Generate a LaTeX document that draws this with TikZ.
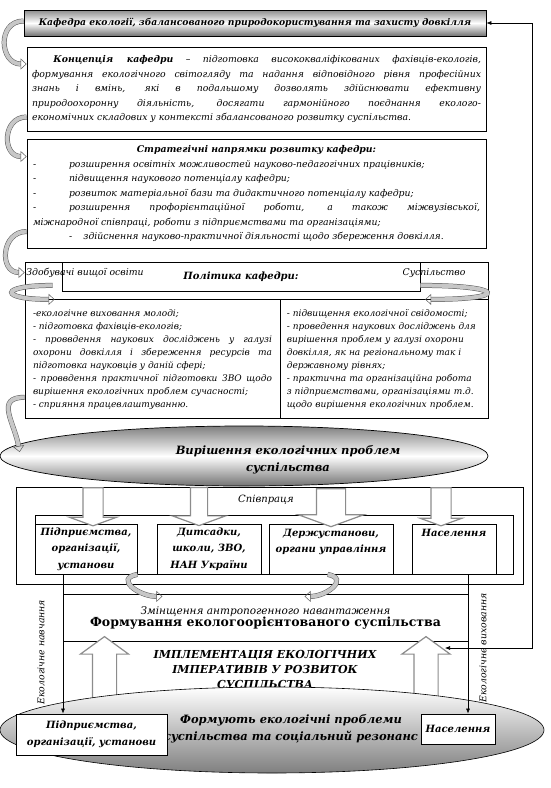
\documentclass[tikz,border=0pt]{standalone}
\usepackage{fontspec}
\setmainfont{DejaVu Serif}
\usetikzlibrary{positioning,arrows.meta,shapes.geometric,shapes.arrows}

\newcommand{\dashit}{\makebox[36pt][l]{-}}

\begin{document}
\begin{tikzpicture}[x=1pt, y=-1pt,
  box/.style={draw, line width=0.8pt, inner sep=0pt},
  itx/.style={font=\itshape\fontsize{9.3}{14.5}\selectfont},
  small/.style={font=\itshape\fontsize{9}{13}\selectfont},
  bix/.style={font=\bfseries\itshape\fontsize{10}{16.5}\selectfont},
  big/.style={font=\bfseries\itshape\fontsize{11.5}{17}\selectfont},
  ribbon/.style={draw=black!65, line width=0.5pt, double=black!22, double distance=4pt,
    -{Triangle[open, length=6pt, width=11pt]}},
  darr/.style={single arrow, draw=black!45, fill=white, line width=1.2pt,
    inner xsep=0pt, rotate=-90, minimum height=38pt, single arrow tip angle=140},
  uarr/.style={single arrow, draw=black!45, fill=white, line width=1.2pt,
    inner xsep=0pt, inner ysep=11.5pt, rotate=90, minimum height=66pt,
    single arrow head extend=12pt, single arrow tip angle=108},
  feed/.style={line width=0.6pt}]
\useasboundingbox (0,0) rectangle (550,788);

% department and its aims
\node[box, top color=black!45, bottom color=black!55, middle color=white,
  minimum width=462pt, minimum height=26pt,
  font=\bfseries\itshape\fontsize{9.2}{12}\selectfont] (kaf) at (255,23)
  {Кафедра екології, збалансованого природокористування та захисту довкілля};
\node[box, inner xsep=5pt, text width=449pt, minimum height=84pt, align=justify, itx] (conc) at (256.5,89)
  {\hspace*{2.3em}\textbf{Концепція кафедри} – підготовка висококваліфікованих фахівців-екологів,\linebreak
  формування екологічного світогляду та надання відповідного рівня професійних\linebreak
  знань і вмінь, які в подальшому дозволять здійснювати ефективну\linebreak
  природоохоронну діяльність, досягати гармонійного поєднання еколого-\linebreak
  економічних складових у контексті збалансованого розвитку суспільства.};
\node[box, inner xsep=6pt, text width=447pt, minimum height=109pt, align=justify, itx] (strat) at (256.5,193.5)
  {{\centering\bfseries Стратегічні напрямки розвитку кафедри:\par}
  \dashit розширення освітніх можливостей науково-педагогічних працівників;\\
  \dashit підвищення наукового потенціалу кафедри;\\
  \dashit розвиток матеріальної бази та дидактичного потенціалу кафедри;\\
  \dashit розширення профорієнтаційної роботи, а також міжвузівської,\linebreak
  міжнародної співпраці, роботи з підприємствами та організаціями;\par
  {\centering -\hspace{1.2em}здійснення науково-практичної діяльності щодо збереження довкілля.\par}};

% policy
\node[box, minimum width=463pt, minimum height=37pt] (phead) at (256.5,280.5) {};
\node[box, minimum width=358pt, minimum height=29pt, bix] (pol) at (241,276.5) {Політика кафедри:};
\node[itx] (zdob) at (85,273) {Здобувачі вищої освіти};
\node[itx] (susp) at (434,273) {Суспільство};
\node[box, anchor=north west, minimum width=255pt, minimum height=119pt, inner xsep=8pt,
  text width=239pt, align=justify, small] (pleft) at (phead.south west)
  {-екологічне виховання молоді;\\
  - підготовка фахівців-екологів;\\
  - проввдення наукових досліджень у галузі\linebreak
  охорони довкілля і збереження ресурсів та\linebreak
  підготовка науковців у даній сфері;\\
  - проввдення практичної підготовки ЗВО щодо\linebreak
  вирішення екологічних проблем сучасності;\\
  - сприяння працевлаштуванню.};
\node[box, anchor=north west, minimum width=208pt, minimum height=119pt, inner xsep=6pt,
  text width=196pt, align=left, small] (pright) at (pleft.north east)
  {- підвищення екологічної свідомості;\\
  - проведення наукових досліджень для\\
  вирішення проблем у галузі охорони\\
  довкілля, як на регіональному так і\\
  державному рівнях;\\
  - практична та організаційна робота\\
  з підприємствами, організаціями т.д.\\
  щодо вирішення екологічних проблем.};

\draw[ribbon] ([yshift=2pt]kaf.west) to[out=180, in=180, looseness=1.6] ([yshift=25pt]conc.west);
\draw[ribbon] ([yshift=-28pt]conc.west) to[out=180, in=180, looseness=1.6] ([yshift=37pt]strat.west);
\draw[ribbon] ([yshift=-38pt]strat.west) to[out=180, in=180, looseness=1.6] ([yshift=8pt]phead.west);
\draw[ribbon] ([xshift=28pt, yshift=14pt]phead.south west) .. controls +(-55,0) and +(-55,0) .. ([xshift=30pt]pleft.north west);
\draw[ribbon] ([xshift=-68pt, yshift=14pt]phead.south east) .. controls +(85,0) and +(85,0) .. ([xshift=-64pt]pright.north east);

% solving
\node[ellipse, draw, line width=0.7pt, top color=black!50, bottom color=black!55, middle color=white,
  minimum width=488pt, minimum height=60pt, inner sep=0pt] (vir) at (244,456) {};
\node[big, align=center] (virtxt) at (288,460) {Вирішення екологічних проблем\\суспільства};
\draw[ribbon] ([yshift=-38pt]pleft.west) to[out=180, in=100, looseness=1.4] ([xshift=20pt, yshift=4pt]vir.west);

% cooperation
\node[box, minimum width=507pt, minimum height=97pt] (coop) at (269.5,535.5) {};
\node[itx, font=\itshape\fontsize{10}{12}\selectfont] (spiv) at (266,500) {Співпраця};
\node[box, minimum width=478pt, minimum height=59pt] (row) at (274,544.5) {};
\node[box, minimum width=102pt, minimum height=50pt, align=center, bix] (b1) at (86,549) {Підприємства,\\організації,\\установи};
\node[box, minimum width=104pt, minimum height=50pt, align=center, bix] (b2) at (209,549) {Дитсадки,\\школи, ЗВО,\\НАН України};
\node[box, minimum width=124pt, minimum height=50pt, align=center, bix] (b3) at (331,549) {Держустанови,\\органи управління\\\mbox{}};
\node[box, minimum width=84pt, minimum height=50pt, align=center, bix] (b4) at (454,549) {Населення\\\mbox{}\\\mbox{}};
\node[darr, inner ysep=9.5pt, single arrow head extend=13.5pt] (darr1) at (93,505) {};
\node[darr, inner ysep=8pt, single arrow head extend=18pt] (darr2) at (199,505) {};
\node[darr, inner ysep=14pt, single arrow head extend=18pt] (darr3) at (331,505) {};
\node[darr, inner ysep=9.5pt, single arrow head extend=10.5pt] (darr4) at (441,505) {};

% forming
\node[box, minimum width=405pt, minimum height=47pt, align=center] (form) at (265.5,617.5)
  {{\itshape\fontsize{10.5}{16}\selectfont Змінщення антропогенного навантаження}\\
  {\bfseries\fontsize{12.5}{15}\selectfont Формування екологоорієнтованого суспільства}};
\draw[ribbon] (b1.south east) to[out=190, in=180, looseness=1.8] ([xshift=25pt, yshift=-22pt]b1.south east);
\draw[ribbon] ([xshift=59pt]b3.south west) to[out=-10, in=0, looseness=1.8] ([xshift=36pt, yshift=-22pt]b3.south west);

\node[uarr] (uarr1) at (104.5,674) {};
\node[uarr] (uarr2) at (426,674) {};
\node[font=\bfseries\itshape\fontsize{11}{15}\selectfont, align=center] (imp) at (265,669)
  {ІМПЛЕМЕНТАЦІЯ ЕКОЛОГІЧНИХ\\ІМПЕРАТИВІВ У РОЗВИТОК\\СУСПІЛЬСТВА};

% problems
\node[ellipse, draw, line width=0.6pt, top color=white, bottom color=black!50,
  minimum width=544pt, minimum height=86pt, inner sep=0pt] (prob) at (272,730) {};
\node[big, align=center] (probtxt) at (291,729) {Формують екологічні проблеми\\суспільства та соціальний резонанс};
\node[box, fill=white, minimum width=151pt, minimum height=41pt, align=center,
  font=\bfseries\itshape\fontsize{10}{17}\selectfont] (pb1) at (91.5,734.5) {Підприємства,\\організації, установи};
\node[box, fill=white, minimum width=74pt, minimum height=30pt, bix] (pb2) at (458,729) {Населення};

\coordinate (navtop) at (63,574);
\coordinate (vyhtop) at (468,574);
\coordinate (impr) at (445,648);
\draw[feed, -{Latex[length=5pt, width=4pt]}] (navtop) -- node[pos=.56, xshift=-22pt, rotate=90, itx] {Екологічне навчання} (navtop |- pb1.north);
\draw[feed, -{Latex[length=5pt, width=4pt]}] (vyhtop) -- node[pos=.53, xshift=15pt, rotate=90, itx] {Екологічне виховання} (vyhtop |- pb2.north);
\draw[feed, {Latex[length=5pt, width=4pt]}-{Latex[length=5pt, width=4pt]}] (kaf.east) -- ++(46,0) |- (impr);
\end{tikzpicture}
\end{document}
